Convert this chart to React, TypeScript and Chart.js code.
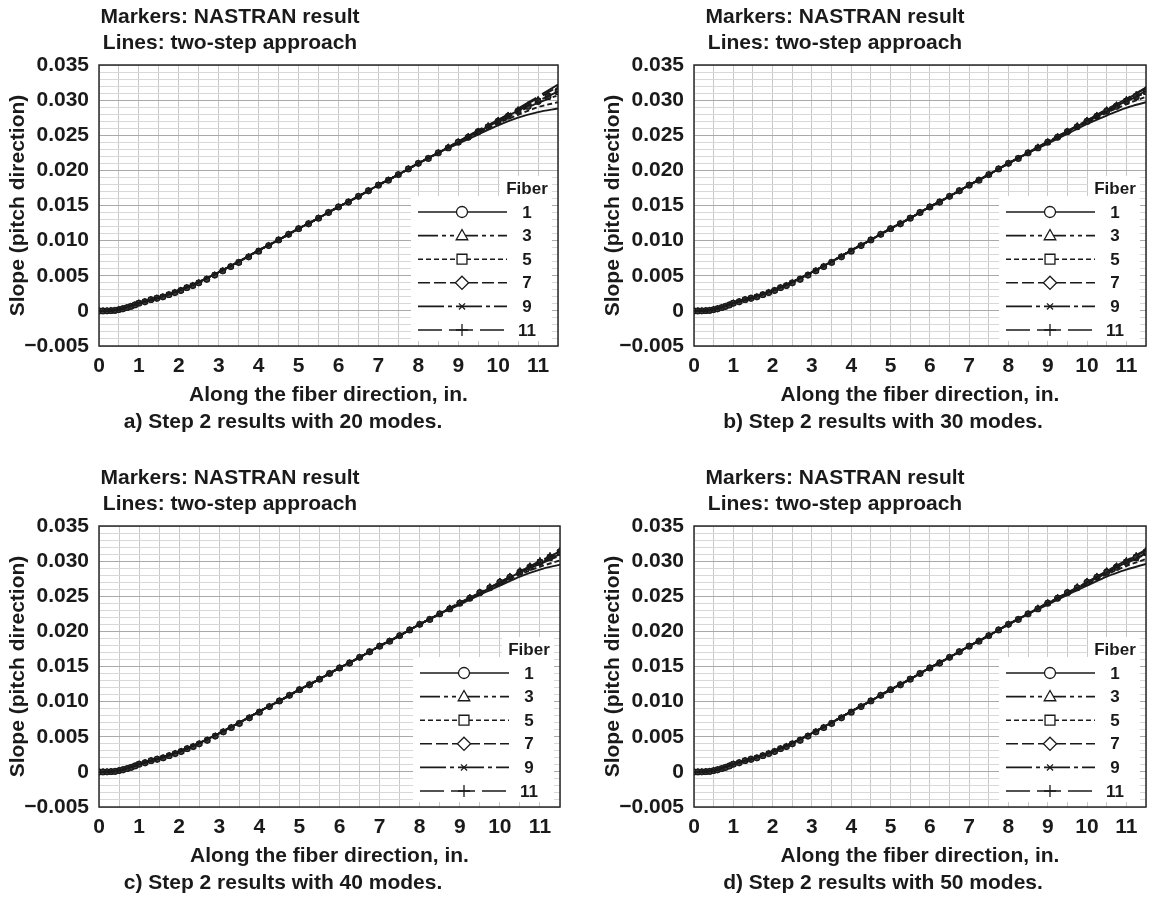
import React, { useEffect, useRef } from 'react';
import { Chart, registerables } from 'chart.js';

Chart.register(...registerables);

// ---------- data ----------
const fiberLabels = ['1', '3', '5', '7', '9', '11'];

// two-step approach lines: shared root part + per-panel tip part
const lineXBase = [0, 0.25, 0.5, 0.75, 1, 1.25, 1.5, 1.75, 2, 2.5, 3, 3.5, 4, 4.5, 5, 5.5, 6, 6.5, 7, 7.5, 8, 8.5];
const lineYBase = [0, 0.00002, 0.0002, 0.0006, 0.0011, 0.0015, 0.0019, 0.0024, 0.0029, 0.0041, 0.0055, 0.007, 0.0086, 0.0101, 0.0117, 0.0132, 0.0148, 0.0163, 0.0179, 0.0194, 0.021, 0.0225];
const lineXTip = [9, 9.5, 10, 10.5, 11, 11.5];

const lineTip20 = [
  [0.0238, 0.0251, 0.0264, 0.0275, 0.0283, 0.0288],
  [0.024, 0.0255, 0.0269, 0.0283, 0.0296, 0.0307],
  [0.0239, 0.0253, 0.0267, 0.0279, 0.029, 0.0297],
  [0.0241, 0.0256, 0.0271, 0.0287, 0.0303, 0.0319],
  [0.024, 0.0255, 0.027, 0.0285, 0.0299, 0.0312],
  [0.0241, 0.0257, 0.0272, 0.0288, 0.0305, 0.0322],
];
const lineTip30 = [
  [0.0238, 0.0252, 0.0266, 0.0278, 0.0289, 0.0297],
  [0.024, 0.0255, 0.0269, 0.0284, 0.0298, 0.0311],
  [0.0239, 0.0254, 0.0268, 0.0282, 0.0294, 0.0305],
  [0.0241, 0.0256, 0.0271, 0.0286, 0.0301, 0.0317],
  [0.024, 0.0255, 0.027, 0.0284, 0.0299, 0.0313],
  [0.0241, 0.0256, 0.0271, 0.0287, 0.0302, 0.0318],
];
const lineTip40 = [
  [0.0238, 0.0252, 0.0265, 0.0278, 0.0288, 0.0295],
  [0.024, 0.0254, 0.0268, 0.0283, 0.0296, 0.0308],
  [0.0239, 0.0253, 0.0267, 0.0281, 0.0292, 0.0301],
  [0.024, 0.0255, 0.027, 0.0285, 0.0299, 0.0313],
  [0.024, 0.0254, 0.0269, 0.0284, 0.0297, 0.031],
  [0.0241, 0.0255, 0.027, 0.0285, 0.03, 0.0314],
];
const lineTip50 = [
  [0.0238, 0.0252, 0.0265, 0.0278, 0.0288, 0.0296],
  [0.024, 0.0254, 0.0269, 0.0283, 0.0297, 0.031],
  [0.0239, 0.0253, 0.0267, 0.0281, 0.0293, 0.0303],
  [0.024, 0.0255, 0.027, 0.0285, 0.03, 0.0315],
  [0.024, 0.0254, 0.0269, 0.0284, 0.0298, 0.0311],
  [0.0241, 0.0255, 0.027, 0.0286, 0.0301, 0.0316],
];

// NASTRAN markers: shared root part + per-fiber tip part
const markerXBase = [0, 0.1, 0.2, 0.3, 0.4, 0.5, 0.6, 0.7, 0.8, 0.9, 1.0, 1.15, 1.3, 1.45, 1.6, 1.75, 1.9, 2.05, 2.2, 2.35, 2.5, 2.7, 2.9, 3.1, 3.3, 3.5, 3.75, 4.0, 4.25, 4.5, 4.75, 5.0, 5.25, 5.5, 5.75, 6.0, 6.25, 6.5, 6.75, 7.0, 7.25, 7.5, 7.75, 8.0, 8.25, 8.5];
const markerYBase = [0, 0, 0.00001, 0.00003, 0.00007, 0.00018, 0.0003, 0.00046, 0.00064, 0.00084, 0.0011, 0.0013, 0.0016, 0.0018, 0.002, 0.0023, 0.0026, 0.0029, 0.0033, 0.0036, 0.004, 0.0045, 0.0051, 0.0057, 0.0063, 0.0069, 0.0077, 0.0085, 0.0093, 0.0101, 0.0109, 0.0117, 0.0124, 0.0132, 0.014, 0.0148, 0.0155, 0.0163, 0.0171, 0.0179, 0.0186, 0.0194, 0.0202, 0.021, 0.0217, 0.0225];
const markerXTip = [8.75, 9.0, 9.25, 9.5, 9.75, 10.0, 10.25, 10.5, 10.75, 11.0, 11.25, 11.5];
const markerTip = [
  [0.0232, 0.024, 0.0247, 0.0255, 0.0262, 0.027, 0.0277, 0.0284, 0.0291, 0.0298, 0.0305, 0.0312],
  [0.0233, 0.024, 0.0248, 0.0255, 0.0263, 0.027, 0.0278, 0.0285, 0.0292, 0.0299, 0.0306, 0.0313],
  [0.0232, 0.024, 0.0247, 0.0255, 0.0262, 0.0269, 0.0277, 0.0284, 0.0291, 0.0298, 0.0304, 0.0311],
  [0.0233, 0.0241, 0.0248, 0.0256, 0.0263, 0.0271, 0.0278, 0.0286, 0.0293, 0.03, 0.0307, 0.0315],
  [0.0232, 0.024, 0.0248, 0.0255, 0.0263, 0.027, 0.0278, 0.0285, 0.0292, 0.0299, 0.0306, 0.0313],
  [0.0233, 0.0241, 0.0249, 0.0256, 0.0264, 0.0272, 0.0279, 0.0287, 0.0294, 0.0302, 0.0309, 0.0316],
];

const xTickLabels = ['0', '1', '2', '3', '4', '5', '6', '7', '8', '9', '10', '11'];
const yTickLabels = ['−0.005', '0', '0.005', '0.010', '0.015', '0.020', '0.025', '0.030', '0.035'];

// ---------- styles ----------
const FONT = "'Liberation Sans', Arial, Helvetica, sans-serif";
const INK = '#1a1a1a';
const fiberDash: number[][] = [[], [20, 4, 4, 4, 4, 4], [5, 3], [12, 4], [26, 4, 4, 4], [24, 7]];
const fiberPoint = ['circle', 'triangle', 'rect', 'rectRot', 'crossRot', 'cross'];

function drawMarker(ctx: CanvasRenderingContext2D, style: string, x: number, y: number, r: number) {
  ctx.beginPath();
  if (style === 'circle') {
    ctx.arc(x, y, r, 0, Math.PI * 2);
  } else if (style === 'triangle') {
    ctx.moveTo(x, y - r * 1.1);
    ctx.lineTo(x + r * 1.05, y + r * 0.75);
    ctx.lineTo(x - r * 1.05, y + r * 0.75);
    ctx.closePath();
  } else if (style === 'rect') {
    ctx.rect(x - r * 0.9, y - r * 0.9, r * 1.8, r * 1.8);
  } else if (style === 'rectRot') {
    ctx.moveTo(x, y - r * 1.2);
    ctx.lineTo(x + r * 1.2, y);
    ctx.lineTo(x, y + r * 1.2);
    ctx.lineTo(x - r * 1.2, y);
    ctx.closePath();
  }
  if (style === 'crossRot') {
    const s = r * 0.55;
    ctx.moveTo(x - s, y - s); ctx.lineTo(x + s, y + s);
    ctx.moveTo(x - s, y + s); ctx.lineTo(x + s, y - s);
    ctx.stroke();
  } else if (style === 'cross') {
    const s = r * 1.1;
    ctx.moveTo(x - s, y); ctx.lineTo(x + s, y);
    ctx.moveTo(x, y - s); ctx.lineTo(x, y + s);
    ctx.stroke();
  } else {
    ctx.fill();
    ctx.stroke();
  }
}

type PanelProps = {
  left: number; top: number; width: number; height: number;
  padRight: number; padBottom: number;
  tips: number[][]; caption: string; titleDx: number; captionDx: number;
};

function Panel(p: PanelProps) {
  const ref = useRef<HTMLCanvasElement>(null);
  useEffect(() => {
    const canvas = ref.current!;
    const datasets: any[] = [];
    const lineX = [...lineXBase, ...lineXTip];
    const markerX = [...markerXBase, ...markerXTip];
    fiberLabels.forEach((lab, i) => {
      const ly = [...lineYBase, ...p.tips[i]];
      datasets.push({
        label: 'Fiber ' + lab + ' two-step',
        data: lineX.map((x, j) => ({ x, y: ly[j] })),
        showLine: true,
        borderColor: INK,
        borderWidth: 1.9,
        borderDash: fiberDash[i],
        pointRadius: 0,
        cubicInterpolationMode: 'monotone',
        fill: false,
        order: 1,
      });
    });
    fiberLabels.forEach((lab, i) => {
      const my = [...markerYBase, ...markerTip[i]];
      datasets.push({
        label: 'Fiber ' + lab + ' NASTRAN',
        data: markerX.map((x, j) => ({ x, y: my[j] })),
        showLine: false,
        pointStyle: fiberPoint[i],
        pointRadius: 2.8,
        pointBorderWidth: 1.2,
        pointBorderColor: '#1a1a1a',
        pointBackgroundColor: '#3c3c3c',
        order: 2,
      });
    });

    const textPlugin = {
      id: 'panelText',
      beforeDatasetsDraw(chart: any) {
        const { ctx, chartArea: a } = chart;
        ctx.save();
        ctx.strokeStyle = '#2a2a2a';
        ctx.lineWidth = 1.5;
        ctx.strokeRect(a.left, a.top, a.right - a.left, a.bottom - a.top);
        ctx.restore();
      },
      afterDatasetsDraw(chart: any) {
        const { ctx, chartArea: a } = chart;
        ctx.save();
        // legend box
        ctx.fillStyle = '#ffffff';
        ctx.fillRect(a.right - 147, a.bottom - 150, 141, 145);
        ctx.fillRect(a.right - 58, a.bottom - 170, 52, 22);
        ctx.font = `bold 17px ${FONT}`;
        ctx.fillStyle = INK;
        ctx.textAlign = 'center';
        ctx.textBaseline = 'middle';
        ctx.fillText('Fiber', a.right - 31, a.bottom - 157);
        fiberLabels.forEach((lab, i) => {
          const y = a.bottom - 134 + i * 23.6;
          const x0 = a.right - 140, x1 = a.right - 51, xm = a.right - 96;
          ctx.strokeStyle = INK;
          ctx.lineWidth = 1.6;
          ctx.setLineDash(fiberDash[i]);
          ctx.beginPath();
          ctx.moveTo(x0, y);
          ctx.lineTo(x1, y);
          ctx.stroke();
          ctx.setLineDash([]);
          ctx.fillStyle = '#ffffff';
          ctx.lineWidth = 1.3;
          drawMarker(ctx, fiberPoint[i], xm, y, 5.5);
          ctx.fillStyle = INK;
          ctx.fillText(lab, a.right - 31, y + 1);
        });
        ctx.restore();
      },
      afterDraw(chart: any) {
        const { ctx, chartArea: a } = chart;
        ctx.save();
        ctx.font = `bold 21px ${FONT}`;
        ctx.fillStyle = INK;
        ctx.textAlign = 'center';
        ctx.textBaseline = 'middle';
        ctx.fillText('Markers: NASTRAN result', a.left + p.titleDx, 17);
        ctx.fillText('Lines: two-step approach', a.left + p.titleDx, 43);
        ctx.fillText(p.caption, a.left + p.captionDx, 422);
        ctx.restore();
      },
    };

    const tickFont = { family: FONT, size: 21, weight: 'bold' as const };
    const chart = new Chart(canvas, {
      type: 'scatter',
      data: { datasets },
      plugins: [textPlugin],
      options: {
        responsive: false,
        animation: false,
        events: [],
        layout: { padding: { top: 65, right: p.padRight, bottom: p.padBottom, left: 0 } },
        plugins: { legend: { display: false }, tooltip: { enabled: false }, title: { display: false } },
        scales: {
          x: {
            type: 'linear',
            min: 0,
            max: 11.5,
            afterFit: (s: any) => { s.height = 62; },
            ticks: {
              stepSize: 0.5,
              autoSkip: false,
              maxRotation: 0,
              padding: 8,
              color: INK,
              font: tickFont,
              callback: (v: any) => (Number.isInteger(v) ? xTickLabels[v] : ''),
            },
            grid: { color: '#c9c9c9', lineWidth: 1, drawTicks: false },
            border: { display: false },
            title: { display: true, text: 'Along the fiber direction, in.', color: INK, font: tickFont, padding: { top: 0, bottom: 0 } },
          },
          y: {
            type: 'linear',
            min: -0.005,
            max: 0.035,
            afterFit: (s: any) => { s.width = 99; },
            ticks: {
              stepSize: 0.001,
              autoSkip: false,
              padding: 10,
              color: INK,
              font: tickFont,
              callback: (v: any) => {
                const k = Math.round(Number(v) * 1000);
                if (k % 5 !== 0) return '';
                return yTickLabels[(k + 5) / 5];
              },
            },
            grid: {
              drawTicks: false,
              lineWidth: 1,
              color: (c: any) => (Math.round(c.tick.value * 1000) % 5 === 0 ? '#a9a9a9' : '#d8d8d8'),
            },
            border: { display: false },
            title: { display: true, text: 'Slope (pitch direction)', color: INK, font: tickFont, padding: { top: 6, bottom: 0 } },
          },
        },
      } as any,
    });
    return () => chart.destroy();
  }, []);
  return (
    <canvas
      ref={ref}
      width={p.width}
      height={p.height}
      style={{ position: 'absolute', left: p.left, top: p.top, width: p.width, height: p.height }}
    />
  );
}

export default function App() {
  return (
    <div style={{ position: 'absolute', left: 0, top: 0, width: 1154, height: 901, overflow: 'hidden', background: '#fff' }}>
      <Panel left={0} top={0} width={580} height={450} padRight={22} padBottom={42} tips={lineTip20}
        caption="a) Step 2 results with 20 modes." titleDx={131} captionDx={184} />
      <Panel left={595} top={0} width={559} height={450} padRight={1} padBottom={42} tips={lineTip30}
        caption="b) Step 2 results with 30 modes." titleDx={141} captionDx={189} />
      <Panel left={0} top={461} width={580} height={440} padRight={20} padBottom={32} tips={lineTip40}
        caption="c) Step 2 results with 40 modes." titleDx={131} captionDx={184} />
      <Panel left={595} top={461} width={559} height={440} padRight={1} padBottom={32} tips={lineTip50}
        caption="d) Step 2 results with 50 modes." titleDx={141} captionDx={189} />
    </div>
  );
}
